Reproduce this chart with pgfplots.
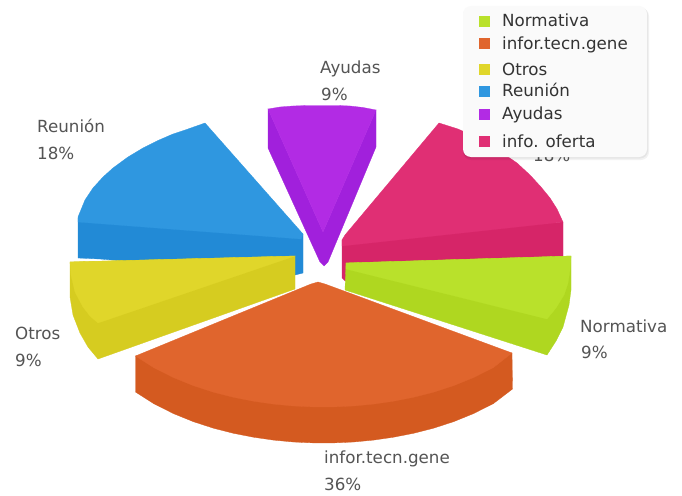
\documentclass[border=0pt]{standalone}
\usepackage{pgfplots}
\pgfplotsset{compat=1.18}
\usepackage{fontspec}
\setmainfont{DejaVu Sans}
\definecolor{cGreen}{HTML}{B9E12B}
\definecolor{cGreenD}{HTML}{AFD720}
\definecolor{cOrange}{HTML}{E0652D}
\definecolor{cOrangeD}{HTML}{D45A20}
\definecolor{cYellow}{HTML}{E0D62A}
\definecolor{cYellowD}{HTML}{D6CC20}
\definecolor{cBlue}{HTML}{2F97E0}
\definecolor{cBlueD}{HTML}{228AD6}
\definecolor{cPurple}{HTML}{B22BE4}
\definecolor{cPurpleD}{HTML}{A120DC}
\definecolor{cPink}{HTML}{E02F74}
\definecolor{cPinkD}{HTML}{D62568}
\pgfplotsset{
  face/.style={fill=#1, draw=#1, line width=0.3pt, mark=none},
}
\tikzset{
  lab/.style={anchor=base west, inner sep=0pt, text=black!67, font=\fontsize{16.7}{17}\selectfont},
  leg/.style={anchor=base west, inner sep=0pt, text=black!80, font=\fontsize{16.7}{17}\selectfont},
}
\begin{document}
\begin{tikzpicture}
\begin{axis}[
    hide axis, scale only axis, width=682pt, height=495pt,
    xmin=0, xmax=682, ymin=0, ymax=495, y dir=reverse, clip=false,
]
% page background, keeps the picture at full size
\addplot[fill=white, draw=none, mark=none] coordinates {(0,0) (682,0) (682,495) (0,495)} -- cycle;
% info. oferta
\addplot[face=cPinkD] coordinates {(342,240) (342,278) (345,281) (563,270) (563,222)} -- cycle;
\addplot[face=cPink] coordinates {(439,123) (458,129) (478,138) (498,150) (517,163) (530,175) (541,187) (550,198) (557,209) (563,222) (342,246) (342,240) (345,235)} -- cycle;
% Reunion
\addplot[face=cBlueD] coordinates {(78,218) (78,258) (100,259) (295,275) (303,273) (303,234)} -- cycle;
\addplot[face=cBlue] coordinates {(205,123) (188,129) (173,134) (158,140.5) (143,148) (128,157) (113,168) (103,177) (93,188) (85,200) (78,217) (78,222) (301,239) (303,234)} -- cycle;
% Ayudas
\addplot[face=cPurpleD] coordinates {(268,109) (268,148) (320,262) (324,266) (328,262) (376,147) (376,110) (323,232)} -- cycle;
\addplot[face=cPurple] coordinates {(268,109) (280,107) (293,106) (308,105.5) (323,105.5) (337,105.5) (350,106) (363,107.5) (376,110) (323,232)} -- cycle;
% Otros
\addplot[face=cYellowD] coordinates {(70,262) (70,297) (73,315) (80,333) (88,347) (98,359) (295,289) (295,256)} -- cycle;
\addplot[face=cYellow] coordinates {(70,262) (295,256) (98,323) (90,316) (83,307) (75,292) (71,275)} -- cycle;
% Normativa
\addplot[face=cGreenD] coordinates {(346,263) (345,290) (547,355) (556,341) (563,327) (569,305) (571,290) (571,256)} -- cycle;
\addplot[face=cGreen] coordinates {(346,263) (571,256) (570,270) (568,283) (564,295) (556,308) (547,319) (346,269)} -- cycle;
% infor.tecn.gene
\addplot[face=cOrangeD] coordinates {(135.5,356) (135.5,392) (153.5,403.5) (173.5,413.6) (193.5,421.7) (213.5,428.2) (233.5,433.3) (253.5,437.2) (273.5,440.1) (293.5,442) (313.5,442.9) (333.5,442.9) (353.5,442) (373.5,440.1) (393.5,437.2) (413.5,433.3) (433.5,428.2) (453.5,421.7) (473.5,413.6) (493.5,403.5) (512.5,389) (512,353)} -- cycle;
\addplot[face=cOrange] coordinates {(135.5,356) (311,284) (318,282) (325,284) (512,353) (493.5,367.5) (473.5,377.6) (453.5,385.7) (433.5,392.2) (413.5,397.3) (393.5,401.2) (373.5,404.1) (353.5,406) (333.5,406.9) (313.5,406.9) (293.5,406) (273.5,404.1) (253.5,401.2) (233.5,397.3) (213.5,392.2) (193.5,385.7) (173.5,377.6) (153.5,367.5)} -- cycle;
% mostly under the box, as in the source
\node[lab] at (axis cs:533,161) {18\%};
% labels
\node[lab] at (axis cs:320,74) {Ayudas};
\node[lab] at (axis cs:321,100) {9\%};
\node[lab] at (axis cs:37,132) {Reunión};
\node[lab] at (axis cs:37,159) {18\%};
\node[lab] at (axis cs:15,339) {Otros};
\node[lab] at (axis cs:15,366) {9\%};
\node[lab] at (axis cs:580,332) {Normativa};
\node[lab] at (axis cs:581,358) {9\%};
\node[lab] at (axis cs:324,463) {infor.tecn.gene};
\node[lab] at (axis cs:324,490) {36\%};
% legend box
\addplot[fill=black, draw=none, opacity=0.05, rounded corners=8pt, mark=none] coordinates {(463,8) (649,8) (649,160) (463,160)} -- cycle;
\addplot[fill=black, draw=none, opacity=0.05, rounded corners=8pt, mark=none] coordinates {(463,7) (648,7) (648,158.5) (463,158.5)} -- cycle;
\addplot[fill=white!98!black, draw=none, rounded corners=8pt, mark=none] coordinates {(463,6) (647,6) (647,157) (463,157)} -- cycle;
\addplot[only marks, mark=square*, mark size=5pt, color=cGreen] coordinates {(484,21)};
\addplot[only marks, mark=square*, mark size=5pt, color=cOrange] coordinates {(484,43)};
\addplot[only marks, mark=square*, mark size=5pt, color=cYellow] coordinates {(484,69)};
\addplot[only marks, mark=square*, mark size=5pt, color=cBlue] coordinates {(484,91)};
\addplot[only marks, mark=square*, mark size=5pt, color=cPurple] coordinates {(484,114)};
\addplot[only marks, mark=square*, mark size=5pt, color=cPink] coordinates {(484,141)};
\node[leg] at (axis cs:502,27) {Normativa};
\node[leg] at (axis cs:502,49) {infor.tecn.gene};
\node[leg] at (axis cs:502,75) {Otros};
\node[leg] at (axis cs:502,96) {Reunión};
\node[leg] at (axis cs:502,119) {Ayudas};
\node[leg] at (axis cs:502,147) {info. oferta};
\end{axis}
\end{tikzpicture}
\end{document}
